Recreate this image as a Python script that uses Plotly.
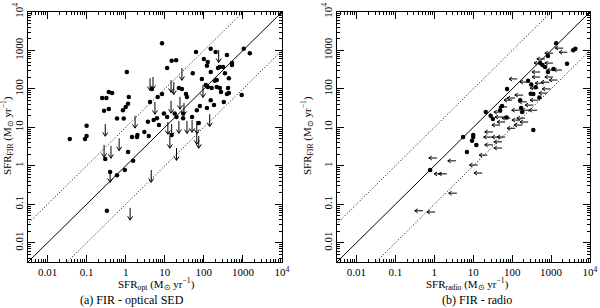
import plotly.graph_objects as go

# ---------------- data ----------------
# Panel (a): FIR vs optical SED SFR -- detections
opt_det_x = [8.5, 1.07, 0.037, 0.091, 0.10, 0.10, 0.25, 0.32, 0.37, 0.45, 0.28, 0.37, 0.60, 0.89,
             0.85, 1.0, 1.15, 1.2, 1.15, 1.45, 1.95, 2.0, 3.0, 3.9, 3.7, 5.2, 6.3, 4.2, 4.7, 6.6,
             8.5, 11.5, 15, 19.5, 23, 27.5, 9.5, 11.5, 35, 37, 18, 20, 29.5, 7.1, 15, 29.5, 50,
             74, 63, 150, 200, 100, 126, 120, 390, 257, 310, 230, 525, 525, 52, 150, 89, 190,
             214, 347, 437, 112, 126, 158, 214, 257, 275, 417, 390, 437, 150, 324, 79, 66, 120,
             182, 930, 1050, 1500, 0.30, 1.55, 0.60, 0.95, 0.33, 0.40]
opt_det_y = [1550, 275, 5.0, 5.0, 6.0, 11, 58, 58, 83, 78, 27, 30, 17, 17,
             28, 34, 41, 62, 2.3, 5.6, 5.6, 6.3, 7.6, 6.0, 14, 15.5, 17.4, 46, 100, 62,
             74, 350, 540, 560, 105, 100, 23, 18.6, 74, 62, 23, 18.6, 23, 11.5, 6.3, 17.4, 18.6,
             13, 910, 1100, 910, 600, 500, 400, 760, 370, 370, 350, 470, 420, 257, 275, 180, 162,
             170, 257, 190, 126, 112, 105, 112, 105, 83, 105, 74, 78, 51, 46, 36, 28, 32,
             38, 69, 1100, 850, 1.5, 1.35, 0.57, 0.78, 0.068, 0.69]
# Panel (a): upper limits (downward arrows)
opt_lim_x = [0.30, 0.28, 0.42, 0.68, 1.74, 5.6, 4.2, 5.0, 27.5, 14.5, 17, 14.5, 24.5, 31, 12,
             15, 23, 37, 50, 66, 141, 66, 20, 13.5, 74, 4.5, 1.3, 0.40, 240, 95]
opt_lim_y = [12.3, 3.5, 3.3, 5.2, 20, 46, 190, 204, 350, 170, 150, 49, 62, 43, 13.8,
             12.3, 14.6, 14.6, 15.6, 14.6, 22, 7.6, 2.9, 6.0, 6.0, 0.78, 0.081, 0.78, 1020, 126]

# Panel (b): FIR vs radio SFR -- detections
rad_det_x = [1350, 3700, 4200, 830, 2570, 525, 700, 830, 257, 74, 350, 160, 21, 55, 49, 170, 32,
             350, 5.5, 10, 10, 9.3, 6.9, 0.78, 600, 1150, 180, 72, 500, 400, 310, 28, 12, 300]
rad_det_y = [1550, 1020, 1100, 720, 450, 470, 370, 275, 162, 100, 74, 51, 25, 36, 28, 32, 16.6,
             8.5, 5.6, 6.3, 5.6, 4.5, 2.3, 0.78, 420, 330, 25, 18, 60, 110, 130, 20, 3.5, 75]
# Panel (b): radio upper limits (leftward arrows)
rad_lim_x = [2050, 1120, 590, 1120, 1260, 1900, 1120, 525, 525, 630, 1450, 135, 257, 470, 955,
             790, 190, 100, 120, 240, 470, 350, 74, 55, 59, 158, 288, 437, 66, 89, 49, 120,
             160, 214, 257, 182, 32, 30, 49, 66, 55, 32, 55, 3.6, 1.17, 1.6, 2.1, 13, 17, 23,
             3.8, 0.51, 1.05, 2600, 700, 900]
rad_lim_y = [1150, 850, 470, 470, 310, 310, 204, 275, 204, 141, 170, 182, 151, 105, 100,
             78, 69, 51, 58, 46, 51, 38, 34, 25, 18.6, 28, 28, 28, 13.8, 17.4, 11.5, 9.5,
             15.5, 17.4, 13.8, 11.5, 7.6, 5.6, 5.6, 5.6, 4.2, 3.5, 2.9, 1.35, 1.6, 0.62, 0.62, 1.05, 0.65, 1.9,
             0.195, 0.068, 0.063, 900, 600, 150]

# Reference relations: y = f * x
rel_factors = [1.0, 10.0, 0.1]
rel_dash = ["solid", "1px,2px", "1px,2px"]
rel_x = [1e-4, 1e5]

major_vals = [0.01, 0.1, 1, 10, 100, 1000, 10000]
major_text = ["0.01", "0.1", "1", "10", "100", "1000", "10<sup>4</sup>"]
minor_vals = [k * 10.0 ** d for d in range(-3, 5) for k in range(2, 10)]

captions = ["(a) FIR - optical SED", "(b) FIR - radio"]
x_titles = ["SFR<sub>opt</sub> (M<sub>\u2299</sub> yr<sup>\u22121</sup>)",
            "SFR<sub>radio</sub> (M<sub>\u2299</sub> yr<sup>\u22121</sup>)"]
y_title = "SFR<sub>FIR</sub> (M<sub>\u2299</sub> yr<sup>\u22121</sup>)"

FONT = "Liberation Serif"
W, H = 600, 308


def down_arrows(xs, ys, shaft=10 ** -0.32, head_w=10 ** 0.065, head_h=10 ** 0.1):
    px, py = [], []
    for x, y in zip(xs, ys):
        tip = y * shaft
        px += [x, x, None, x / head_w, x, x * head_w, None]
        py += [y, tip, None, tip * head_h, tip, tip * head_h, None]
    return px, py


def left_arrows(xs, ys, shaft=10 ** -0.21, head_w=10 ** 0.075, head_h=10 ** 0.05):
    px, py = [], []
    for x, y in zip(xs, ys):
        tip = x * shaft
        px += [x, tip, None, tip * head_w, tip, tip * head_w, None]
        py += [y, y, None, y * head_h, y, y / head_h, None]
    return px, py


fig = go.Figure()

panels = [
    (opt_det_x, opt_det_y, down_arrows(opt_lim_x, opt_lim_y), "x", "y"),
    (rad_det_x, rad_det_y, left_arrows(rad_lim_x, rad_lim_y), "x2", "y2"),
]
for dx, dy, (ax_, ay_), xa, ya in panels:
    for f, dsh in zip(rel_factors, rel_dash):
        fig.add_trace(go.Scatter(x=rel_x, y=[v * f for v in rel_x], mode="lines",
                                 line=dict(color="black", width=1, dash=dsh),
                                 xaxis=xa, yaxis=ya, hoverinfo="skip", showlegend=False))
    fig.add_trace(go.Scatter(x=ax_, y=ay_, mode="lines", line=dict(color="black", width=1),
                             xaxis=xa, yaxis=ya, showlegend=False, connectgaps=False))
    fig.add_trace(go.Scatter(x=dx, y=dy, mode="markers",
                             marker=dict(symbol="circle", size=4.5, color="black"),
                             xaxis=xa, yaxis=ya, showlegend=False))

ydom = [(H - 262) / H, (H - 12) / H]
xdoms = [[28 / W, 282 / W], [337 / W, 590 / W]]


def axis_common():
    return dict(type="log", range=[-2.5, 4], showgrid=False, zeroline=False, automargin=False,
                showline=True, linecolor="black", linewidth=1, mirror="allticks",
                ticks="inside", ticklen=7, tickwidth=1, tickcolor="black",
                tickmode="array", tickvals=major_vals, ticktext=major_text,
                tickfont=dict(family=FONT, size=11, color="black"),
                minor=dict(tickmode="array", tickvals=minor_vals, ticks="inside",
                           ticklen=3, tickwidth=1, tickcolor="black", showgrid=False))


layout = dict(width=W, height=H, margin=dict(l=0, r=0, t=0, b=0, autoexpand=False),
              paper_bgcolor="white", plot_bgcolor="white", showlegend=False,
              font=dict(family=FONT, color="black"))
for i, (xa, ya) in enumerate([("xaxis", "yaxis"), ("xaxis2", "yaxis2")]):
    xd = axis_common()
    xd.update(domain=xdoms[i], anchor="y" if i == 0 else "y2")
    yd = axis_common()
    yd.update(domain=ydom, anchor="x" if i == 0 else "x2", tickangle=-90)
    layout[xa] = xd
    layout[ya] = yd

annotations = []
title_x_px = [156, 467]
caption_x_px = [132, 477]
ytitle_x_px = [7, 307]
for i in range(2):
    annotations.append(dict(text=x_titles[i], x=title_x_px[i] / W, y=1 - 284 / H,
                            xref="paper", yref="paper", showarrow=False,
                            xanchor="center", yanchor="middle",
                            font=dict(family=FONT, size=11, color="black")))
    annotations.append(dict(text=captions[i], x=caption_x_px[i] / W, y=1 - 300 / H,
                            xref="paper", yref="paper", showarrow=False,
                            xanchor="center", yanchor="middle",
                            font=dict(family=FONT, size=12, color="black")))
    annotations.append(dict(text=y_title, x=ytitle_x_px[i] / W, y=1 - 136 / H,
                            xref="paper", yref="paper", showarrow=False, textangle=-90,
                            xanchor="center", yanchor="middle",
                            font=dict(family=FONT, size=11, color="black")))
layout["annotations"] = annotations

fig.update_layout(**layout)
fig.write_html("out.html", config={"displayModeBar": False},
               post_script="document.body.style.margin='0px';")
